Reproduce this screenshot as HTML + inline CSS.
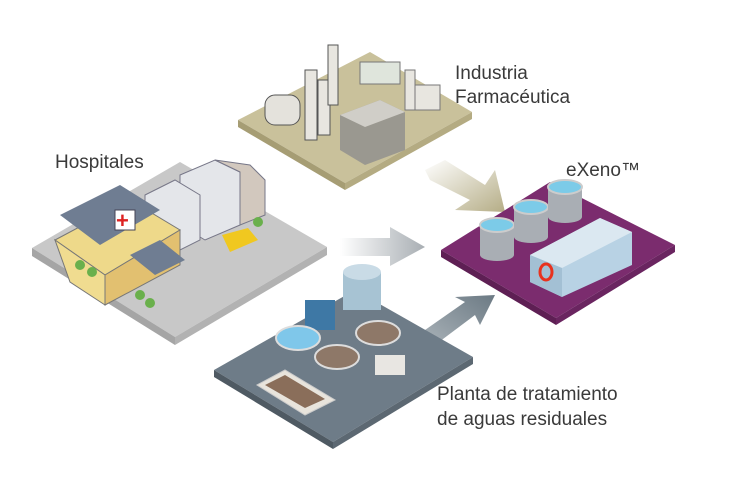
<!DOCTYPE html>
<html><head><style>
body{margin:0;background:#fff;width:729px;height:478px;overflow:hidden}
text{font-family:"Liberation Sans",sans-serif;fill:#3a3a3a;font-size:19px}
</style></head><body>
<svg width="729" height="478" viewBox="0 0 729 478" xmlns="http://www.w3.org/2000/svg">
<defs>
<linearGradient id="g1" x1="0" x2="1"><stop offset="0" stop-color="#fff"/><stop offset="1" stop-color="#a8aeb3"/></linearGradient>
<linearGradient id="g2" x1="0" y1="0" x2="1" y2="1"><stop offset="0" stop-color="#fff"/><stop offset="1" stop-color="#b5ad86"/></linearGradient>
<linearGradient id="g3" x1="0" y1="1" x2="1" y2="0"><stop offset="0" stop-color="#a9b2b8"/><stop offset="1" stop-color="#6c7a84"/></linearGradient>
</defs>
<polygon points="425,170 445,160 485,185 495,170 505,212 455,210 470,200 430,180" fill="url(#g2)"/>
<polygon points="340,238 390,238 390,227 425,247 390,266 390,256 340,256" fill="url(#g1)"/>
<polygon points="425,330 465,302 455,297 495,295 480,325 475,315 435,345" fill="url(#g3)"/>
<!-- industry -->
<polygon points="238,120 370,52 472,112 345,183" fill="#c9c19b"/>
<polygon points="238,120 345,183 345,190 238,127" fill="#a69d74"/>
<polygon points="345,183 472,112 472,119 345,190" fill="#b4ab82"/>
<polygon points="340,115 380,100 405,112 405,150 365,165 340,150" fill="#9a9890"/>
<polygon points="340,115 380,100 405,112 365,127" fill="#d0cec8"/>
<rect x="265" y="95" width="35" height="30" rx="10" fill="#e4e2dc" stroke="#555"/>
<rect x="305" y="70" width="12" height="70" fill="#e8e6e0" stroke="#555"/>
<rect x="318" y="80" width="12" height="55" fill="#e8e6e0" stroke="#555"/>
<rect x="328" y="45" width="10" height="60" fill="#e8e6e0" stroke="#555"/>
<rect x="360" y="62" width="40" height="22" fill="#dfe5dc" stroke="#777"/>
<rect x="405" y="70" width="10" height="40" fill="#e8e6e0" stroke="#777"/>
<rect x="415" y="85" width="25" height="25" fill="#e8e6e0" stroke="#777"/>
<!-- hospital -->
<polygon points="32,248 180,162 327,247 175,337" fill="#c8c8c8"/>
<polygon points="32,248 175,337 175,345 32,256" fill="#a5a5a5"/>
<polygon points="175,337 327,247 327,255 175,345" fill="#b2b2b2"/>
<polygon points="180,175 215,160 240,172 240,225 205,240 180,225" fill="#e4e6ea" stroke="#778"/>
<polygon points="215,160 250,165 265,180 265,215 240,225 240,172" fill="#d2c8be" stroke="#778"/>
<polygon points="145,195 175,180 200,195 200,240 170,255 145,240" fill="#e4e6ea" stroke="#778"/>
<polygon points="55,240 130,200 180,230 105,275" fill="#eed98a" stroke="#777"/>
<polygon points="105,275 180,230 180,265 105,305" fill="#e2c070" stroke="#777"/>
<polygon points="55,240 105,275 105,305 70,282" fill="#f0dc90" stroke="#777"/>
<polygon points="60,215 120,185 160,210 100,245" fill="#6f7d92"/>
<polygon points="130,255 160,240 185,260 155,275" fill="#6f7d92"/>
<rect x="115" y="210" width="20" height="20" fill="#fff" stroke="#445"/>
<text x="116" y="228" style="fill:#d22;font-size:22px;font-weight:bold">+</text>
<polygon points="222,235 248,228 258,240 230,252" fill="#f0c820"/>
<circle cx="80" cy="265" r="5" fill="#6ab04c"/><circle cx="92" cy="272" r="5" fill="#6ab04c"/>
<circle cx="140" cy="295" r="5" fill="#6ab04c"/><circle cx="150" cy="303" r="5" fill="#6ab04c"/>
<circle cx="258" cy="222" r="5" fill="#6ab04c"/>
<!-- water -->
<polygon points="214,370 355,290 473,357 333,442" fill="#6e7c88"/>
<polygon points="214,370 333,442 333,449 214,377" fill="#4f5a63"/>
<polygon points="333,442 473,357 473,364 333,449" fill="#5c6872"/>
<rect x="343" y="272" width="38" height="38" fill="#a7c3d3"/>
<ellipse cx="362" cy="272" rx="19" ry="8" fill="#c9dbe6"/>
<rect x="305" y="300" width="30" height="30" fill="#3e78a5"/>
<ellipse cx="298" cy="338" rx="22" ry="12" fill="#7fc7ea" stroke="#ddd" stroke-width="2"/>
<ellipse cx="337" cy="357" rx="22" ry="12" fill="#8e7868" stroke="#ddd" stroke-width="2"/>
<ellipse cx="378" cy="333" rx="22" ry="12" fill="#8e7868" stroke="#ddd" stroke-width="2"/>
<polygon points="257,385 285,370 335,400 305,415" fill="#e8e4dc" stroke="#ccc"/>
<polygon points="265,385 285,375 325,399 305,408" fill="#8a6e5a"/>
<rect x="375" y="355" width="30" height="20" fill="#e8e6e2"/>
<!-- eXeno -->
<polygon points="441,250 550,182 675,245 556,318" fill="#7b2c6e"/>
<polygon points="441,250 556,318 556,325 441,257" fill="#5e1f54"/>
<polygon points="556,318 675,245 675,252 556,325" fill="#6a2560"/>
<rect x="480" y="225" width="34" height="30" fill="#a9aeb4"/><ellipse cx="497" cy="255" rx="17" ry="6" fill="#a9aeb4"/><ellipse cx="497" cy="225" rx="17" ry="7" fill="#7ccbe8" stroke="#ccc" stroke-width="2"/>
<rect x="514" y="207" width="34" height="30" fill="#a9aeb4"/><ellipse cx="531" cy="237" rx="17" ry="6" fill="#a9aeb4"/><ellipse cx="531" cy="207" rx="17" ry="7" fill="#7ccbe8" stroke="#ccc" stroke-width="2"/>
<rect x="548" y="187" width="34" height="30" fill="#a9aeb4"/><ellipse cx="565" cy="217" rx="17" ry="6" fill="#a9aeb4"/><ellipse cx="565" cy="187" rx="17" ry="7" fill="#7ccbe8" stroke="#ccc" stroke-width="2"/>
<polygon points="530,255 600,218 632,232 632,265 562,297 530,282" fill="#b8d2e4"/>
<polygon points="530,255 600,218 632,232 562,268" fill="#dbe8f1"/>
<polygon points="530,255 562,268 562,297 530,282" fill="#a3c0d4"/>
<ellipse cx="546" cy="272" rx="6" ry="8" fill="none" stroke="#e8321e" stroke-width="3"/>
<text x="455" y="79">Industria</text>
<text x="455" y="103">Farmacéutica</text>
<text x="55" y="168">Hospitales</text>
<text x="566" y="176">eXeno™</text>
<text x="437" y="400">Planta de tratamiento</text>
<text x="437" y="425">de aguas residuales</text>
</svg>
</body></html>
